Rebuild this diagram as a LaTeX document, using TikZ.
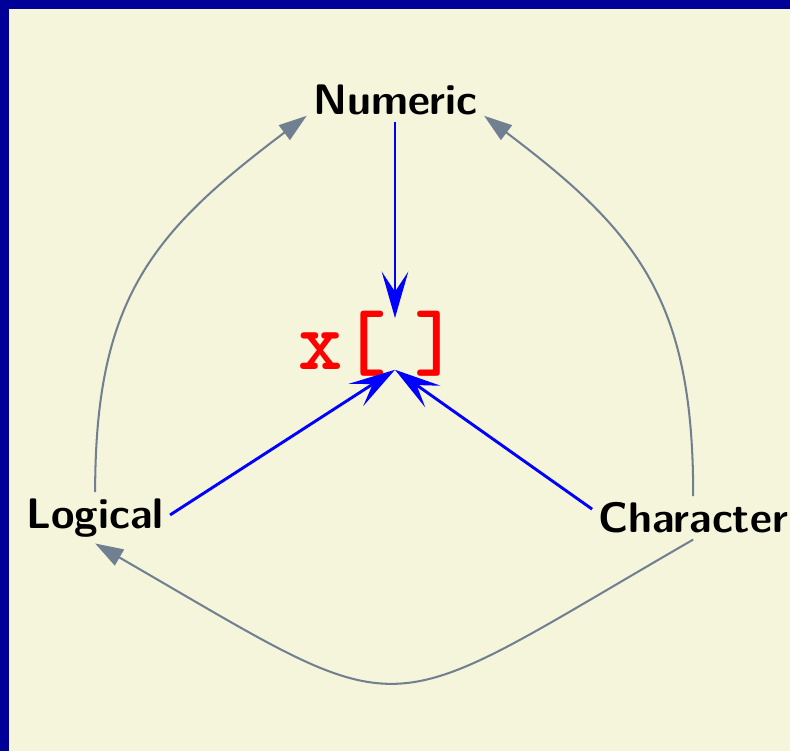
\documentclass[tikz,border=0pt]{standalone}
\usepackage{fontspec}
\newfontfamily\codefont{lmmonolt10-bold}[Extension=.otf]
\usepackage{tikz}
\usetikzlibrary{arrows.meta,positioning}
\definecolor{slidebg}{RGB}{245,245,220}
\definecolor{slideframe}{RGB}{0,0,153}
\definecolor{linkgrey}{RGB}{112,128,144}

\begin{document}
\begin{tikzpicture}[
      kind/.style={font=\sffamily\bfseries\fontsize{14.7}{18}\selectfont, inner sep=2pt},
      subset/.style={-{Stealth[length=5.6mm, width=3.2mm, inset=2.4mm]}, line width=1pt, draw=blue},
      coerce/.style={-{Triangle[length=3.4mm, width=2.2mm]}, line width=0.7pt, draw=linkgrey}]
    % slide background and frame
    \fill[slidebg] (0,0) rectangle (9.55,9.08);
    \fill[slideframe] (0,8.97) rectangle (9.55,9.08);
    \fill[slideframe] (0,0) rectangle (0.11,9.08);
    \useasboundingbox (0,0) rectangle (9.55,9.08);
    \node[kind] (num) at (4.78,7.87) {Numeric};
    \node[text=red, font=\fontsize{29}{32}\selectfont, inner sep=0pt] (vec) at (4.576,4.92) {\codefont x[\kern0.33em]};
    \node[kind] (log) at (1.15,2.82) {Logical};
    \node[kind] (chr) at (8.38,2.82) {Character};
    \coordinate (vtop) at (4.775,5.235);
    \coordinate (vbot) at (4.775,4.61);
    \draw[subset] (num.south -| vtop) -- (vtop);
    \draw[subset] ([yshift=1pt]log.east) -- (vbot);
    \draw[subset] ([yshift=3pt]chr.west) -- (vbot);
    \draw[coerce] (log.north) to[out=90, in=-143, looseness=1.15] ([yshift=2pt]num.south west);
    \draw[coerce] (chr.north) to[out=90, in=-37, looseness=1.15] ([yshift=2pt]num.south east);
    \draw[coerce] (chr.south) to[out=-150, in=-30, looseness=1.6] (log.south);
  \end{tikzpicture}
\end{document}
